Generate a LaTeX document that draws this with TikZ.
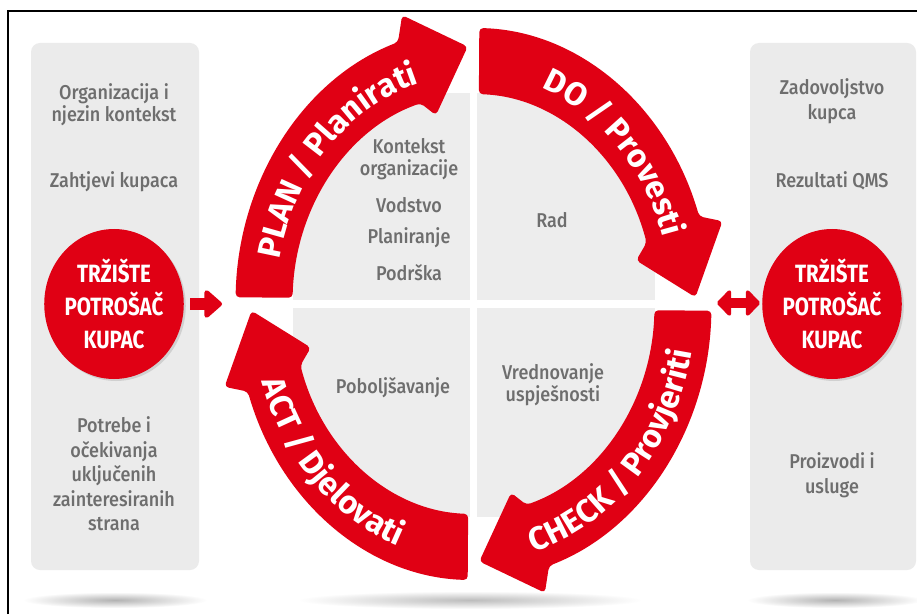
\documentclass[tikz,border=0pt]{standalone}
\usepackage{fontspec}
\setmainfont{Fira Sans}
\newfontfamily\gfont{Fira Sans Medium}[FakeStretch=0.9]
\newfontfamily\cfont{Fira Sans}[FakeStretch=0.82]
\usetikzlibrary{decorations.text,shadows,shapes.geometric,arrows.meta}
\definecolor{pdred}{RGB}{224,0,20}
\definecolor{panelgray}{RGB}{235,235,235}
\definecolor{quadgray}{RGB}{237,237,237}
\definecolor{txtgray}{RGB}{110,110,110}
\newcommand\arcfont{\bfseries\fontsize{32.5}{34}\selectfont\color{white}}
\begin{document}
\begin{tikzpicture}[x=1pt,y=1pt,
  graytxt/.style={font=\gfont\fontsize{20}{22}\selectfont, text=txtgray, align=center, inner sep=0pt},
  circtxt/.style={ellipse, fill=pdred, minimum width=132pt, minimum height=150pt,
     font=\cfont\bfseries\fontsize{25}{33}\selectfont, text=white, align=center, inner sep=0pt,
     drop shadow={opacity=0.25, shadow xshift=2pt, shadow yshift=-2pt}},
  panel/.style={fill=panelgray, rounded corners=9pt},
  bigarrow/.style={pdred, line width=12pt, -{Triangle[length=19pt, width=32pt, round]}},
  dblarrow/.style={pdred, line width=10pt, {Triangle[length=15pt, width=30pt, round]}-{Triangle[length=15pt, width=30pt, round]}},
  arctext/.style={decorate, decoration={text along path, text align=center, text={#1}}}]
\useasboundingbox (0,0) rectangle (917,614);
\fill[white] (0,0) rectangle (917,614);
% floor shadows
\shade[inner color=black!30, outer color=white] (115,14) ellipse[x radius=92, y radius=8];
\shade[inner color=black!26, outer color=white] (470,14) ellipse[x radius=172, y radius=9];
\shade[inner color=black!30, outer color=white] (835,14) ellipse[x radius=88, y radius=8];
% frame
\draw[line width=1.6pt] (8,0) -- (8,603) -- (917,603);
% side panels
\fill[panel] (31,44) rectangle (199,571);
\fill[panel] (750,44) rectangle (916,571);
% quadrants
\begin{scope}
  \clip (473.5,310) ellipse[x radius=238, y radius=276];
  \fill[quadgray] (293,314) rectangle (470,521);
  \fill[quadgray] (477,314) rectangle (655,521);
  \fill[quadgray] (293,97) rectangle (470,306);
  \fill[quadgray] (477,97) rectangle (655,306);
\end{scope}
% cycle arrows
\begin{scope}[shift={(473.5,310)}, yscale=1.16]
  \foreach \r in {0,-90,-180,-270}{
    \fill[pdred, rounded corners=4pt, rotate=\r]
      (178.6:238) arc[start angle=178.6, end angle=108.5, radius=238]
      -- (106:259) -- (91.5:222) -- (103:167) -- (107:181)
      arc[start angle=107, end angle=178.3, radius=181] -- cycle;
  }
\end{scope}
% arc labels
\begin{scope}[shift={(473.5,310)}]
  \path[arctext={|\arcfont|PLAN / Planirati}] (186:198 and 229.7) arc[start angle=186, end angle=86, x radius=198, y radius=229.7];
  \path[arctext={|\arcfont|DO / Provesti}] (95:198 and 229.7) arc[start angle=95, end angle=-5, x radius=198, y radius=229.7];
  \path[arctext={|\arcfont|CHECK / Provjeriti}] (-93.75:222 and 257.5) arc[start angle=-93.75, end angle=6.25, x radius=222, y radius=257.5];
  \path[arctext={|\arcfont|ACT / Djelovati}] (175.5:222 and 257.5) arc[start angle=175.5, end angle=275.5, x radius=222, y radius=257.5];
\end{scope}
% quadrant texts
\node[graytxt] (kont) at (409,455) {Kontekst\\organizacije};
\node[graytxt] (vod) at (409,409) {Vodstvo};
\node[graytxt] (plan) at (409,376) {Planiranje};
\node[graytxt] (pod) at (409,341) {Podrška};
\node[graytxt] (rad) at (552,394) {Rad};
\node[graytxt] (pob) at (393,226) {Poboljšavanje};
\node[graytxt] (vred) at (553,229) {Vrednovanje\\uspješnosti};
% left panel
\node[graytxt] (org) at (114,509) {Organizacija i\\njezin kontekst};
\node[graytxt] (zaht) at (114,432) {Zahtjevi kupaca};
\node[circtxt] (lcirc) at (114,310) {TRŽIŠTE\\POTROŠAČ\\KUPAC};
\node[graytxt, font=\gfont\fontsize{20}{24.5}\selectfont] (potr) at (114,140) {Potrebe i\\očekivanja\\uključenih\\zainteresiranih\\strana};
% right panel
\node[graytxt, font=\gfont\fontsize{20}{25}\selectfont] (zad) at (832,513) {Zadovoljstvo\\kupca};
\node[graytxt] (rez) at (832,433) {Rezultati QMS};
\node[circtxt] (rcirc) at (832,310) {TRŽIŠTE\\POTROŠAČ\\KUPAC};
\node[graytxt, font=\gfont\fontsize{20}{25}\selectfont] (proiz) at (832,139) {Proizvodi i\\usluge};
% connectors
\coordinate (la) at (190,310);
\coordinate (lb) at (222,310);
\draw[bigarrow] (la) -- (lb);
\coordinate (ra) at (717,311);
\coordinate (rb) at (760,311);
\draw[dblarrow] (ra) -- (rb);
\end{tikzpicture}
\end{document}
